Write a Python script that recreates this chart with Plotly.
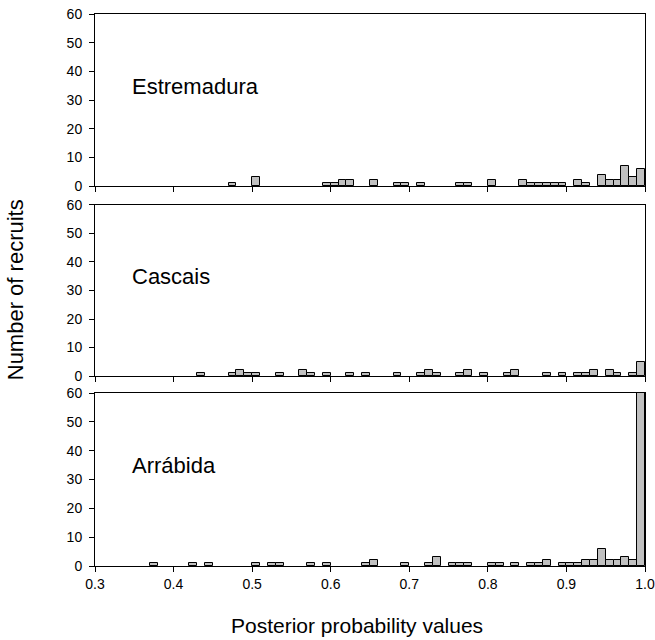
import plotly.graph_objects as go
from plotly.subplots import make_subplots

# Bin starts (width 0.01) and counts per site
estremadura_bins = [0.47, 0.50, 0.59, 0.60, 0.61, 0.62, 0.65, 0.68, 0.69, 0.71, 0.76, 0.77, 0.80,
                    0.84, 0.85, 0.86, 0.87, 0.88, 0.89, 0.91, 0.92, 0.94, 0.95, 0.96, 0.97, 0.98, 0.99]
estremadura_counts = [1, 3, 1, 1, 2, 2, 2, 1, 1, 1, 1, 1, 2,
                      2, 1, 1, 1, 1, 1, 2, 1, 4, 2, 2, 7, 3, 6]

cascais_bins = [0.43, 0.47, 0.48, 0.49, 0.50, 0.53, 0.56, 0.57, 0.59, 0.62, 0.64, 0.68, 0.71, 0.72,
                0.73, 0.76, 0.77, 0.79, 0.82, 0.83, 0.87, 0.89, 0.91, 0.92, 0.93, 0.95, 0.96, 0.98, 0.99]
cascais_counts = [1, 1, 2, 1, 1, 1, 2, 1, 1, 1, 1, 1, 1, 2,
                  1, 1, 2, 1, 1, 2, 1, 1, 1, 1, 2, 2, 1, 1, 5]

arrabida_bins = [0.37, 0.42, 0.44, 0.50, 0.52, 0.53, 0.57, 0.59, 0.64, 0.65, 0.69, 0.72, 0.73, 0.75,
                 0.76, 0.77, 0.80, 0.81, 0.83, 0.85, 0.86, 0.87, 0.89, 0.90, 0.91, 0.92, 0.93, 0.94,
                 0.95, 0.96, 0.97, 0.98, 0.99]
arrabida_counts = [1, 1, 1, 1, 1, 1, 1, 1, 1, 2, 1, 1, 3, 1,
                   1, 1, 1, 1, 1, 1, 1, 2, 1, 1, 1, 2, 2, 6,
                   2, 2, 3, 2, 60]

site_names = ["Estremadura", "Cascais", "Arrábida"]
bin_width = 0.01
x_ticks = [0.3, 0.4, 0.5, 0.6, 0.7, 0.8, 0.9, 1.0]
y_ticks = [0, 10, 20, 30, 40, 50, 60]

fig = make_subplots(rows=3, cols=1, shared_xaxes=False, vertical_spacing=0.03)

series = [(estremadura_bins, estremadura_counts), (cascais_bins, cascais_counts),
          (arrabida_bins, arrabida_counts)]
for i, (bins, counts) in enumerate(series, start=1):
    fig.add_trace(go.Bar(
        x=[b + bin_width / 2 for b in bins], y=counts, width=bin_width,
        marker=dict(color="#c0c0c0", line=dict(color="#000000", width=1)),
        showlegend=False, hoverinfo="x+y"), row=i, col=1)

domains = [[0.6884, 1.0], [0.3442, 0.654], [0.0, 0.3134]]
font_family = "Liberation Sans, Arial, sans-serif"
for i in range(1, 4):
    xa = "xaxis" if i == 1 else f"xaxis{i}"
    ya = "yaxis" if i == 1 else f"yaxis{i}"
    fig.layout[xa].update(
        range=[0.3, 1.0], tickvals=x_ticks, tickformat=".1f", automargin=False,
        showticklabels=(i == 3), ticks="outside", ticklen=5, tickwidth=1, tickcolor="#000",
        showline=True, linecolor="#000", linewidth=1, mirror=True, showgrid=False,
        zeroline=False, tickfont=dict(size=14, color="#000", family=font_family))
    fig.layout[ya].update(
        range=[0, 60], tickvals=y_ticks, domain=domains[i - 1], automargin=False,
        ticks="outside", ticklen=5, tickwidth=1, tickcolor="#000", ticklabelstandoff=4,
        showline=True, linecolor="#000", linewidth=1, mirror=True, showgrid=False,
        zeroline=False, tickfont=dict(size=14, color="#000", family=font_family))

for i, name in enumerate(site_names):
    yref = "y domain" if i == 0 else f"y{i+1} domain"
    xref = "x domain" if i == 0 else f"x{i+1} domain"
    fig.add_annotation(text=name, xref=xref, yref=yref, x=0.064, y=0.58,
                       xanchor="left", yanchor="middle", showarrow=False,
                       font=dict(size=22, color="#000", family=font_family))

fig.add_annotation(text="Number of recruits", xref="paper", yref="paper",
                   x=-0.145, y=0.5, textangle=-90, showarrow=False,
                   xanchor="center", yanchor="middle",
                   font=dict(size=22, color="#000", family=font_family))
fig.add_annotation(text="Posterior probability values", xref="paper", yref="paper",
                   x=0.477, y=-0.107, showarrow=False, xanchor="center", yanchor="middle",
                   font=dict(size=21, color="#000", family=font_family))

fig.update_layout(width=655, height=640, margin=dict(l=95, r=10, t=14, b=74),
                  paper_bgcolor="white", plot_bgcolor="white", bargap=0)

fig.write_html("out.html", config={"displayModeBar": False},
               post_script="document.body.style.margin='0';")
